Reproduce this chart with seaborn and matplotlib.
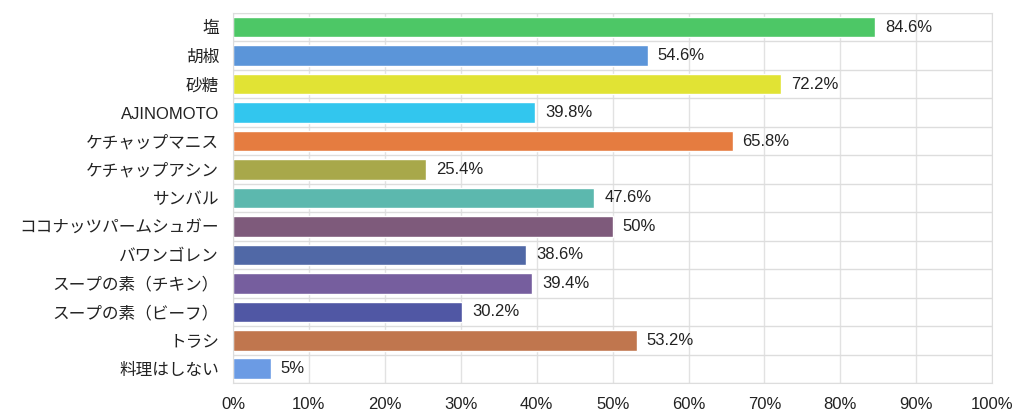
import numpy as np
import pandas as pd
import matplotlib
matplotlib.use("Agg")
from matplotlib import pyplot as plt
import seaborn as sns

categories = ["塩", "胡椒", "砂糖", "AJINOMOTO", "ケチャップマニス", "ケチャップアシン", "サンバル",
              "ココナッツパームシュガー", "バワンゴレン", "スープの素（チキン）", "スープの素（ビーフ）",
              "トラシ", "料理はしない"]
values = [84.6, 54.6, 72.2, 39.8, 65.8, 25.4, 47.6, 50, 38.6, 39.4, 30.2, 53.2, 5]
value_labels = ["84.6%", "54.6%", "72.2%", "39.8%", "65.8%", "25.4%", "47.6%", "50%",
                "38.6%", "39.4%", "30.2%", "53.2%", "5%"]
colors = ["#4DC766", "#5B95D9", "#E1E334", "#32C6EE", "#E57C40", "#A8A84A", "#5CB8AE",
          "#7E5A7B", "#5068A6", "#765E9E", "#5057A4", "#C0764E", "#6B9BE4"]

sns.set_style("white")
plt.rcParams['font.family'] = ['Liberation Sans', 'Noto Sans CJK JP', 'DejaVu Sans']

df = pd.DataFrame({"cat": categories, "val": values})

fig = plt.figure(figsize=(10.24, 4.19), dpi=100)
ax = fig.add_axes([0.2275, 0.086, 0.7415, 0.883])

sns.barplot(data=df, y="cat", x="val", hue="cat", palette=colors, legend=False,
            width=0.72, ax=ax, saturation=1)

for i, (v, lab) in enumerate(zip(values, value_labels)):
    ax.text(v + 1.3, i, lab, va="center", ha="left", fontsize=12, color="#222222")

ax.set_xlim(0, 100)
ax.set_ylim(len(categories) - 0.5, -0.5)
ax.set_xticks(np.arange(0, 101, 10))
ax.set_xticklabels([f"{t}%" for t in range(0, 101, 10)], fontsize=12, color="#222222")
ax.set_yticks(range(len(categories)))
ax.set_yticklabels(categories, fontsize=12, color="#222222")
ax.set_yticks(np.arange(-0.5, len(categories), 1), minor=True)
ax.tick_params(axis="y", which="major", length=0, pad=10)
ax.tick_params(axis="y", which="minor", length=10, color="#dddddd", width=1)
ax.tick_params(axis="x", which="major", length=0, pad=10)
ax.grid(True, axis="x", which="major", color="#e2e2e2", lw=1)
ax.grid(True, axis="y", which="minor", color="#dddddd", lw=1)
ax.set_axisbelow(True)
ax.set_xlabel("")
ax.set_ylabel("")
for s in ax.spines.values():
    s.set_color("#dddddd")

fig.savefig("out.png", dpi=100)
